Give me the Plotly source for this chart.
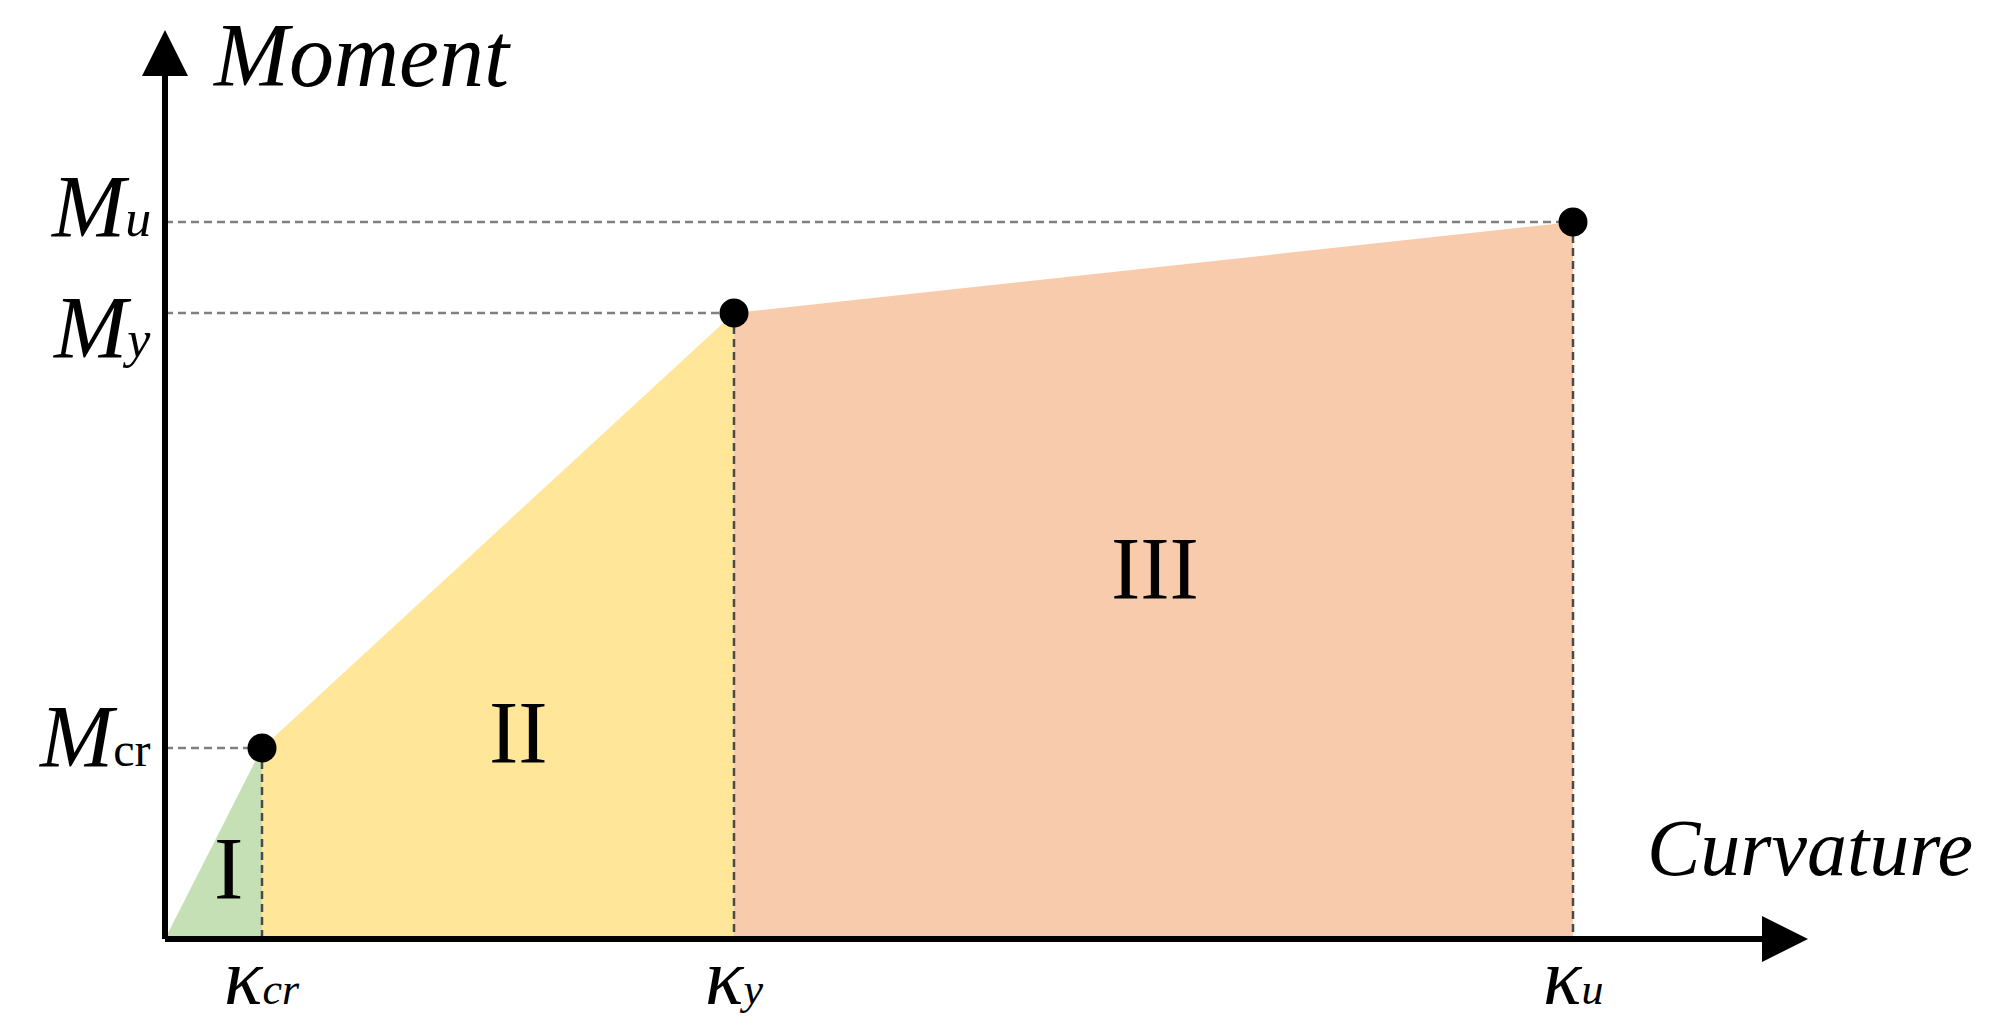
import plotly.graph_objects as go

# ---- data (abstract units: 1 unit = 100 px in the reference) ----
curvature_pts = [0.0, 0.97, 5.69, 14.08]      # origin, kcr, ky, ku
moment_pts = [0.0, 1.91, 6.26, 7.17]          # origin, Mcr, My, Mu
region_labels = ["I", "II", "III"]
region_label_x = [0.63, 3.53, 9.90]
region_label_y = [0.71, 2.07, 3.71]
region_colors = ["#C5E0B4", "#FFE699", "#F8CBAD"]
x_tick_labels = ["κ<span style='font-size:44px'>cr</span>",
                 "κ<span style='font-size:44px'>y</span>",
                 "κ<span style='font-size:44px'>u</span>"]
y_tick_labels = ["M<span style='font-size:48px;font-style:normal'>cr</span>",
                 "M<span style='font-size:52px'>y</span>",
                 "M<span style='font-size:52px'>u</span>"]
x_axis_end = 16.43
y_axis_end = 9.09
x_title = "Curvature"
y_title = "Moment"

FONT = "Liberation Serif"
k0, kcr, ky, ku = curvature_pts
m0, mcr, my, mu = moment_pts

fig = go.Figure()

# filled regions
polys = [
    ([k0, kcr, kcr, k0], [m0, mcr, m0, m0]),
    ([kcr, kcr, ky, ky, kcr], [m0, mcr, my, m0, m0]),
    ([ky, ky, ku, ku, ky], [m0, my, mu, m0, m0]),
]
for (xs, ys), col in zip(polys, region_colors):
    fig.add_trace(go.Scatter(x=xs, y=ys, fill="toself", fillcolor=col, mode="none",
                             hoverinfo="skip", showlegend=False))

# dashed guide lines
for k, m in zip(curvature_pts[1:], moment_pts[1:]):
    fig.add_trace(go.Scatter(x=[0, k], y=[m, m], mode="lines",
                             line=dict(color="#808080", width=2.5, dash="8px,5px"),
                             hoverinfo="skip", showlegend=False))
    fig.add_trace(go.Scatter(x=[k, k], y=[m, 0], mode="lines",
                             line=dict(color="#4a4a4a", width=2.5, dash="8px,5px"),
                             hoverinfo="skip", showlegend=False))

# axes lines
fig.add_trace(go.Scatter(x=[0, x_axis_end - 0.3], y=[0, 0], mode="lines",
                         line=dict(color="black", width=6), hoverinfo="skip", showlegend=False))
fig.add_trace(go.Scatter(x=[0, 0], y=[0, y_axis_end - 0.3], mode="lines",
                         line=dict(color="black", width=6), hoverinfo="skip", showlegend=False))
# arrow heads
fig.add_trace(go.Scatter(x=[x_axis_end], y=[0], mode="markers", cliponaxis=False,
                         marker=dict(symbol="arrow-right", size=46, color="black"),
                         hoverinfo="skip", showlegend=False))
fig.add_trace(go.Scatter(x=[0], y=[y_axis_end], mode="markers", cliponaxis=False,
                         marker=dict(symbol="arrow-up", size=46, color="black"),
                         hoverinfo="skip", showlegend=False))

# key points
fig.add_trace(go.Scatter(x=curvature_pts[1:], y=moment_pts[1:], mode="markers",
                         marker=dict(size=29, color="black"), cliponaxis=False,
                         hoverinfo="skip", showlegend=False))

ann = []
# region labels
for t, x, y in zip(region_labels, region_label_x, region_label_y):
    ann.append(dict(x=x, y=y, text=t, showarrow=False, xanchor="center", yanchor="middle",
                    font=dict(family=FONT, size=88, color="black")))
# x tick labels
for t, k in zip(x_tick_labels, curvature_pts[1:]):
    ann.append(dict(x=k, y=-0.38, text="<i>" + t + "</i>", showarrow=False,
                    xanchor="center", yanchor="middle",
                    font=dict(family=FONT, size=80, color="black")))
# y tick labels
y_label_off = [0.12, -0.14, 0.16]
for t, m, off in zip(y_tick_labels, moment_pts[1:], y_label_off):
    ann.append(dict(x=-0.12, y=m + off, text="<i>" + t + "</i>", showarrow=False,
                    xanchor="right", yanchor="middle",
                    font=dict(family=FONT, size=88, color="black")))
# axis titles
ann.append(dict(x=0.45, y=8.84, text="<i>" + y_title + "</i>", showarrow=False,
                xanchor="left", yanchor="middle", font=dict(family=FONT, size=90, color="black")))
ann.append(dict(x=16.45, y=0.91, text="<i>" + x_title + "</i>", showarrow=False,
                xanchor="center", yanchor="middle", font=dict(family=FONT, size=80, color="black")))

fig.update_layout(
    width=1995, height=1032, autosize=False,
    margin=dict(l=0, r=0, t=0, b=0),
    paper_bgcolor="white", plot_bgcolor="white",
    xaxis=dict(range=[-1.65, 18.30], visible=False, fixedrange=True),
    yaxis=dict(range=[-0.93, 9.39], visible=False, fixedrange=True),
    annotations=ann,
    showlegend=False,
)

fig.write_html("out.html", config={"displayModeBar": False},
               post_script="document.body.style.margin='0';document.body.style.overflow='hidden';")
